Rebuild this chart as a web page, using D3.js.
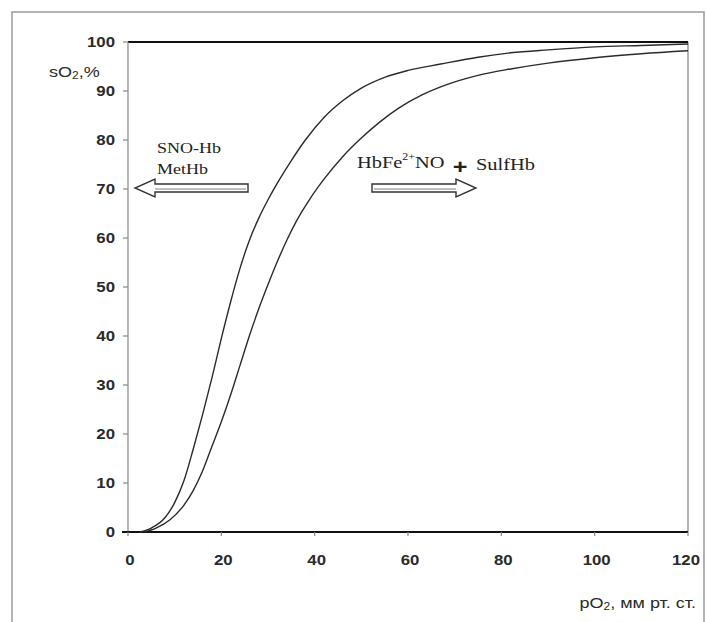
<!DOCTYPE html>
<html>
<head>
<meta charset="utf-8">
<title>sO2 vs pO2</title>
<script src="https://cdn.jsdelivr.net/npm/d3@7"></script>
<style>
  body { margin: 0; background: #fff; }
  .num { font-family: "Liberation Sans", Arial, sans-serif; font-weight: bold; font-size: 14px; fill: #2a2a2a; }
  .note { font-family: "Liberation Serif", "Times New Roman", serif; font-size: 15px; fill: #222; }
  .big { font-size: 17px; }
  .curve { fill: none; stroke: #2b2b2b; stroke-width: 1.4px; }
</style>
</head>
<body>
<script>
// curve 1 (left, shifted) and curve 2 (right)
var pO2Left  = [2.5, 5, 8, 10, 12, 14, 16, 18, 20, 22, 24, 26, 28, 30, 32, 35, 38, 42, 46, 50, 55, 60, 67, 75, 82, 90, 100, 110, 120];
var sO2Left  = [0, 0.8, 3, 6, 10.5, 17, 24, 31.5, 39.5, 47, 53.8, 59.5, 64, 67.8, 71.2, 75.8, 80, 84.6, 88, 90.6, 92.8, 94.2, 95.5, 96.9, 97.8, 98.4, 99, 99.3, 99.6];
var pO2Right = [3.5, 6, 9, 12, 14, 16, 18, 20, 22, 24, 26, 28, 30, 32, 34, 36, 39, 42, 46, 50, 54, 58, 63, 68, 75, 82, 90, 100, 110, 120];
var sO2Right = [0, 0.8, 2.5, 5.5, 8.5, 12.5, 17.5, 22.5, 28, 34, 40, 45.5, 50.5, 55.2, 59.5, 63.3, 68, 72, 76.6, 80.4, 83.7, 86.5, 89.2, 91.2, 93.2, 94.5, 95.7, 96.8, 97.6, 98.2];
var xTicks = [0, 20, 40, 60, 80, 100, 120];
var yTicks = [0, 10, 20, 30, 40, 50, 60, 70, 80, 90, 100];

var width = 706, height = 622, sx = 1.2;

var svg = d3.select("body").append("svg")
    .attr("width", width)
    .attr("height", height);

// outer frame
svg.append("rect")
    .attr("x", 12).attr("y", 12)
    .attr("width", 692).attr("height", 640)
    .attr("fill", "none").attr("stroke", "#999").attr("stroke-width", 1.5);

var x = d3.scaleLinear().domain([0, 120]).range([128, 688]);
var y = d3.scaleLinear().domain([0, 100]).range([532, 42]);

// stretched text helper (the scan is wider than normal type)
function label(txt, px, py, anchor, cls) {
    return svg.append("text")
        .attr("class", cls)
        .attr("transform", "translate(" + px + "," + py + ") scale(" + sx + ",1)")
        .attr("text-anchor", anchor)
        .text(txt);
}

// plot frame: right side grey, top black
svg.append("line")
    .attr("x1", x(120)).attr("x2", x(120)).attr("y1", y(100)).attr("y2", y(0))
    .attr("stroke", "#9a9a9a").attr("stroke-width", 1.5);
svg.append("line")
    .attr("x1", x(0)).attr("x2", x(120)).attr("y1", y(100)).attr("y2", y(100))
    .attr("stroke", "#111").attr("stroke-width", 2);

// y axis
svg.append("line")
    .attr("x1", x(0)).attr("x2", x(0)).attr("y1", y(100)).attr("y2", y(0))
    .attr("stroke", "#888").attr("stroke-width", 1.2);
yTicks.forEach(function (t) {
    svg.append("line")
        .attr("x1", x(0) - 5).attr("x2", x(0)).attr("y1", y(t)).attr("y2", y(t))
        .attr("stroke", "#888").attr("stroke-width", 1.2);
    label(t, 115, y(t) + 5, "end", "num");
});

// x axis
svg.append("line")
    .attr("x1", x(0) - 6).attr("x2", x(120)).attr("y1", y(0)).attr("y2", y(0))
    .attr("stroke", "#111").attr("stroke-width", 2);
xTicks.forEach(function (t) {
    svg.append("line")
        .attr("x1", x(t)).attr("x2", x(t)).attr("y1", y(0)).attr("y2", y(0) + 4)
        .attr("stroke", "#888").attr("stroke-width", 1.2);
    label(t, x(t) + (t === 120 ? -2 : 2), 565, "middle", "num");
});

// curves
var line = d3.line()
    .x(function (d) { return x(d[0]); })
    .y(function (d) { return y(d[1]); })
    .curve(d3.curveMonotoneX);

svg.append("path").attr("class", "curve")
    .attr("d", line(pO2Left.map(function (v, i) { return [v, sO2Left[i]]; })));
svg.append("path").attr("class", "curve")
    .attr("d", line(pO2Right.map(function (v, i) { return [v, sO2Right[i]]; })));

// axis titles
var yt = svg.append("text").attr("class", "num")
    .attr("transform", "translate(49,77) scale(" + sx + ",1)")
    .style("font-weight", "normal").style("font-size", "15px");
yt.append("tspan").text("sO");
yt.append("tspan").attr("font-size", "10px").attr("dy", 2).text("2");
yt.append("tspan").attr("dy", -2).text(",%");

var xt = svg.append("text").attr("class", "num")
    .attr("transform", "translate(696,608) scale(" + sx + ",1)")
    .attr("text-anchor", "end")
    .style("font-weight", "normal").style("font-size", "15px");
xt.append("tspan").text("pO");
xt.append("tspan").attr("font-size", "10px").attr("dy", 2).text("2");
xt.append("tspan").attr("dy", -2).text(", мм рт. ст.");

// arrows
function arrow(x0, x1, yc) {
    var dir = x1 > x0 ? 1 : -1, head = 20, sh = 4, hh = 9;
    var xb = x1 - dir * head;
    var pts = [[x0, yc - sh], [xb, yc - sh], [xb, yc - hh], [x1, yc], [xb, yc + hh], [xb, yc + sh], [x0, yc + sh]];
    svg.append("path")
        .attr("d", "M" + pts.join("L") + "Z")
        .attr("fill", "#fff").attr("stroke", "#333").attr("stroke-width", 1.4)
        .attr("stroke-linejoin", "miter");
    svg.append("line")
        .attr("x1", x0 + dir * 2).attr("x2", xb).attr("y1", yc + 1).attr("y2", yc + 1)
        .attr("stroke", "#aaa").attr("stroke-width", 1.5);
}
arrow(248, 135, y(70) - 1);
arrow(372, 476, y(70) - 1);

// annotations
label("SNO-Hb", 157, 153, "start", "note");
label("MetHb", 157, 174, "start", "note");

var t1 = svg.append("text").attr("class", "note big")
    .attr("transform", "translate(357,168) scale(" + sx + ",1)");
t1.append("tspan").text("HbFe");
t1.append("tspan").attr("font-size", "10px").attr("dy", -8).text("2+");
t1.append("tspan").attr("dy", 8).text("NO");
svg.append("text")
    .attr("transform", "translate(460,174) scale(1.2,1)")
    .attr("text-anchor", "middle")
    .style("font-family", "Liberation Sans, Arial, sans-serif")
    .style("font-weight", "bold").style("font-size", "21px").style("fill", "#222")
    .text("+");
label("SulfHb", 476, 170, "start", "note big");
</script>
</body>
</html>
